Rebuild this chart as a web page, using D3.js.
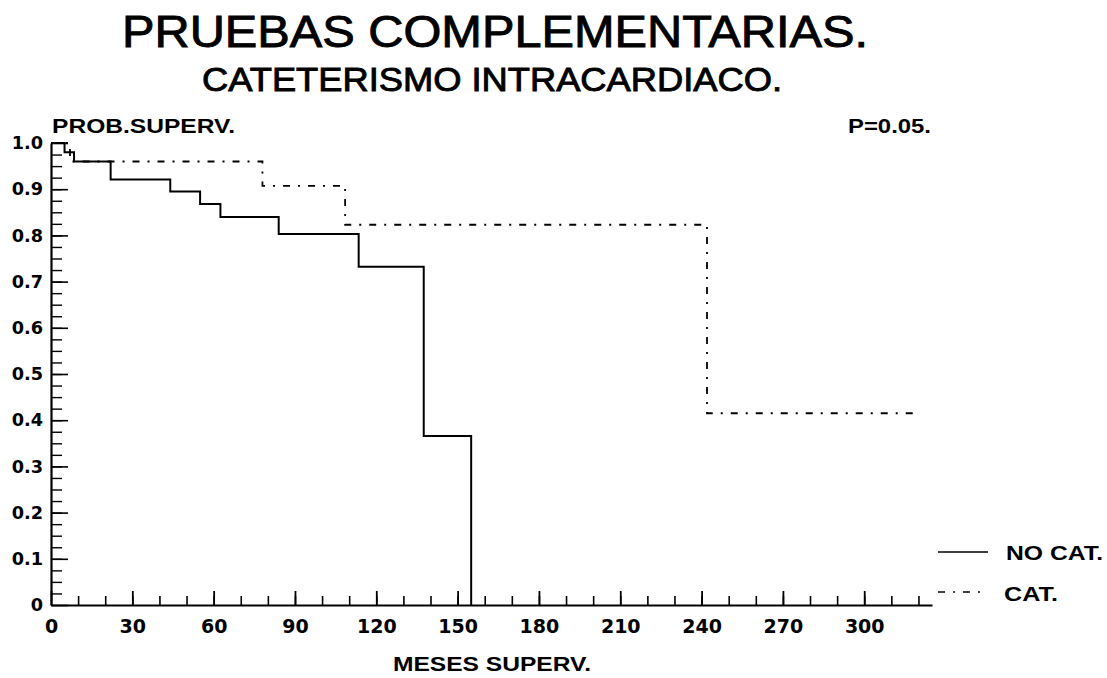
<!DOCTYPE html>
<html>
<head>
<meta charset="utf-8">
<script src="https://cdn.jsdelivr.net/npm/d3@7"></script>
<style>
  body { margin: 0; background: #fff; }
  text { fill: #000; }
</style>
</head>
<body>
<div id="chart"></div>
<script>
// survival steps (months, probability)
var noCatTime = [0, 5, 8.5, 22, 44, 55, 62.5, 84, 113.5, 137.5, 155];
var noCatSurv = [1.0, 0.98, 0.96, 0.921, 0.895, 0.868, 0.84, 0.803, 0.732, 0.366, 0];
var catTime = [0, 7, 78, 108.5, 242, 320.5];
var catSurv = [1.0, 0.96, 0.907, 0.823, 0.415, 0.415];

var xMajor = [0, 30, 60, 90, 120, 150, 180, 210, 240, 270, 300];
var yMajor = [0, 0.1, 0.2, 0.3, 0.4, 0.5, 0.6, 0.7, 0.8, 0.9, 1.0];
var seriesNames = ["NO CAT.", "CAT."];

var width = 1107, height = 678;

var svg = d3.select("#chart")
  .append("svg")
    .attr("width", width)
    .attr("height", height);

var x = d3.scaleLinear().domain([0, 325]).range([51, 932]);
var y = d3.scaleLinear().domain([0, 1]).range([605, 143]);

// titles
svg.append("text")
  .attr("x", 495).attr("y", 47)
  .attr("text-anchor", "middle")
  .attr("font-family", "Liberation Sans, Arial, sans-serif")
  .attr("font-size", 44.7)
  .style("stroke", "#000").style("stroke-width", 0.9)
  .attr("textLength", 746).attr("lengthAdjust", "spacingAndGlyphs")
  .text("PRUEBAS COMPLEMENTARIAS.");

svg.append("text")
  .attr("x", 492).attr("y", 90.5)
  .attr("text-anchor", "middle")
  .attr("font-family", "Liberation Sans, Arial, sans-serif")
  .attr("font-size", 33.5)
  .style("stroke", "#000").style("stroke-width", 0.9)
  .attr("textLength", 580).attr("lengthAdjust", "spacingAndGlyphs")
  .text("CATETERISMO INTRACARDIACO.");

// X axis: minor ticks every 10, major every 30
svg.append("g")
  .attr("transform", "translate(0,605)")
  .call(d3.axisBottom(x).tickValues(d3.range(10, 325, 10)).tickSize(-9).tickSizeOuter(0).tickFormat(""))
  .call(g => g.select(".domain").remove())
  .call(g => g.selectAll("line").attr("stroke-width", 1.6));

var xAxis = svg.append("g")
  .attr("transform", "translate(0,605)")
  .call(d3.axisBottom(x).tickValues(xMajor).tickSize(-14).tickSizeOuter(0).tickPadding(15));
xAxis.select(".domain").attr("stroke-width", 2.2);
xAxis.selectAll("line").attr("stroke-width", 1.8);
xAxis.selectAll("text")
  .attr("font-family", "DejaVu Sans, sans-serif")
  .attr("font-weight", "bold")
  .attr("font-size", 19);

// Y axis: minor ticks every 0.025, major every 0.1
svg.append("g")
  .attr("transform", "translate(51,0)")
  .call(d3.axisLeft(y).tickValues(d3.range(0.025, 1, 0.025)).tickSize(-11).tickSizeOuter(0).tickFormat(""))
  .call(g => g.select(".domain").remove())
  .call(g => g.selectAll("line").attr("stroke-width", 1.4));

var yAxis = svg.append("g")
  .attr("transform", "translate(51,0)")
  .call(d3.axisLeft(y).tickValues(yMajor).tickSize(-17).tickSizeOuter(0).tickPadding(8)
    .tickFormat(d => d === 0 ? "0" : d3.format(".1f")(d)));
yAxis.select(".domain").attr("stroke-width", 2.2);
yAxis.selectAll("line").attr("stroke-width", 1.6);
yAxis.selectAll("text")
  .attr("font-family", "DejaVu Sans, sans-serif")
  .attr("font-weight", "bold")
  .attr("font-size", 17.7);

// axis titles and p value
svg.append("text")
  .attr("x", 52).attr("y", 132.5)
  .attr("font-family", "Liberation Sans, Arial, sans-serif")
  .attr("font-weight", "bold").attr("font-size", 20)
  .attr("textLength", 183).attr("lengthAdjust", "spacingAndGlyphs")
  .text("PROB.SUPERV.");

svg.append("text")
  .attr("x", 848).attr("y", 133)
  .attr("font-family", "Liberation Sans, Arial, sans-serif")
  .attr("font-weight", "bold").attr("font-size", 20)
  .attr("textLength", 83).attr("lengthAdjust", "spacingAndGlyphs")
  .text("P=0.05.");

svg.append("text")
  .attr("x", 393).attr("y", 671)
  .attr("font-family", "Liberation Sans, Arial, sans-serif")
  .attr("font-weight", "bold").attr("font-size", 20)
  .attr("textLength", 198).attr("lengthAdjust", "spacingAndGlyphs")
  .text("MESES SUPERV.");

// survival curves
var line = d3.line()
  .curve(d3.curveStepAfter)
  .x(d => x(d[0]))
  .y(d => y(d[1]));

var noCat = noCatTime.map((t, i) => [t, noCatSurv[i]]);
var cat = catTime.map((t, i) => [t, catSurv[i]]);

svg.append("path")
  .datum(cat)
  .attr("d", line)
  .attr("fill", "none")
  .attr("stroke", "#000")
  .attr("stroke-width", 1.8)
  .attr("stroke-dasharray", "7,8,2,8");

svg.append("path")
  .datum(noCat)
  .attr("d", line)
  .attr("fill", "none")
  .attr("stroke", "#000")
  .attr("stroke-width", 2);

// legend
var legend = svg.append("g");
legend.append("line")
  .attr("x1", 938).attr("x2", 988).attr("y1", 552).attr("y2", 552)
  .attr("stroke", "#000").attr("stroke-width", 1.4);
legend.append("line")
  .attr("x1", 938).attr("x2", 983).attr("y1", 592).attr("y2", 592)
  .attr("stroke", "#000").attr("stroke-width", 1.4)
  .attr("stroke-dasharray", "7,8,2,8");
legend.append("text")
  .attr("x", 1006).attr("y", 560)
  .attr("font-family", "Liberation Sans, Arial, sans-serif")
  .attr("font-weight", "bold").attr("font-size", 20.5)
  .attr("textLength", 97).attr("lengthAdjust", "spacingAndGlyphs")
  .text(seriesNames[0]);
legend.append("text")
  .attr("x", 1004).attr("y", 600.5)
  .attr("font-family", "Liberation Sans, Arial, sans-serif")
  .attr("font-weight", "bold").attr("font-size", 20.5)
  .attr("textLength", 54).attr("lengthAdjust", "spacingAndGlyphs")
  .text(seriesNames[1]);
</script>
</body>
</html>
